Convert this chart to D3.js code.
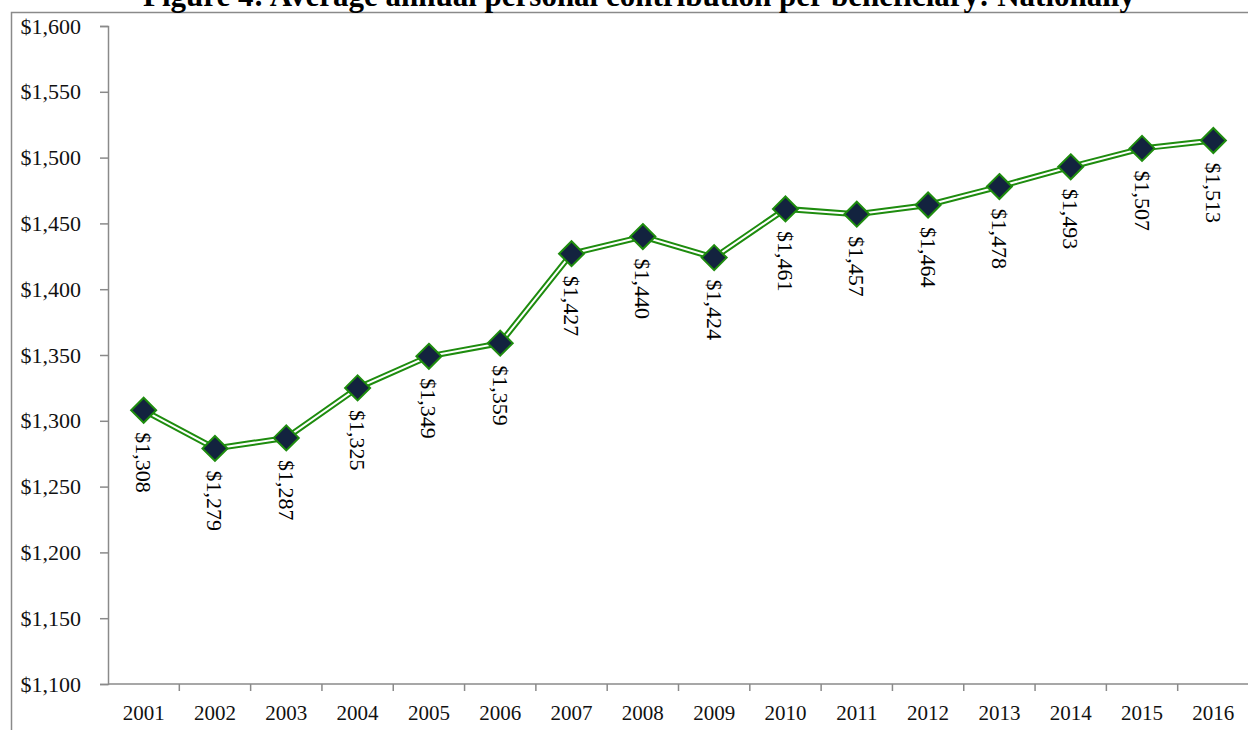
<!DOCTYPE html>
<html>
<head>
<meta charset="utf-8">
<script src="https://cdn.jsdelivr.net/npm/d3@7"></script>
<style>
  html, body { margin: 0; padding: 0; background: #fff; overflow: hidden; }
  svg { display: block; }
</style>
</head>
<body>
<svg id="chart" width="1248" height="730"></svg>
<script>
// Average annual personal contribution per beneficiary, national figures
const years = ["2001","2002","2003","2004","2005","2006","2007","2008","2009","2010","2011","2012","2013","2014","2015","2016"];
const contributions = [1308, 1279, 1287, 1325, 1349, 1359, 1427, 1440, 1424, 1461, 1457, 1464, 1478, 1493, 1507, 1513];
const yTicks = [1100, 1150, 1200, 1250, 1300, 1350, 1400, 1450, 1500, 1550, 1600];
const title = "Figure 4: Average annual personal contribution per beneficiary: Nationally";

const svg = d3.select("#chart");
const FONT = "'Liberation Serif', 'Times New Roman', serif";
const AXIS_GREY = "#8a8a8a";
const GREEN = "#1e8c0e";

const plot = { left: 108, right: 1249, top: 26, bottom: 684 };

// outer frame
svg.append("path")
  .attr("d", `M11.5,730 L11.5,12.5 L1248,12.5`)
  .attr("fill", "none").attr("stroke", AXIS_GREY).attr("stroke-width", 1.5);

// title (sits above the frame)
svg.append("text")
  .attr("x", 639).attr("y", 6)
  .attr("text-anchor", "middle")
  .attr("font-family", FONT).attr("font-weight", "bold").attr("font-size", 31)
  .attr("fill", "#000")
  .text(title);

const x = d3.scaleBand().domain(years).range([plot.left, plot.right]);
const y = d3.scaleLinear().domain([1100, 1600]).range([plot.bottom, plot.top]);

const fmt = v => "$" + d3.format(",")(v);

// y axis
const yAxis = svg.append("g")
  .attr("transform", `translate(${plot.left},0)`)
  .call(d3.axisLeft(y).tickValues(yTicks).tickFormat(fmt).tickSize(8).tickPadding(19));
yAxis.select(".domain").attr("stroke", AXIS_GREY).attr("stroke-width", 1.5);
yAxis.selectAll(".tick line").attr("stroke", AXIS_GREY).attr("stroke-width", 1.5);
yAxis.selectAll(".tick text")
  .attr("font-family", FONT).attr("font-size", 22).attr("fill", "#111");

// x axis with ticks between categories
const xAxis = svg.append("g")
  .attr("transform", `translate(0,${plot.bottom})`);
xAxis.append("line")
  .attr("x1", plot.left).attr("x2", plot.right)
  .attr("stroke", AXIS_GREY).attr("stroke-width", 1.5);
xAxis.selectAll("line.sep")
  .data(years.map((d, i) => i))
  .join("line").attr("class", "sep")
  .attr("x1", i => plot.left + x.step() * (i + 1))
  .attr("x2", i => plot.left + x.step() * (i + 1))
  .attr("y1", 0).attr("y2", 7)
  .attr("stroke", AXIS_GREY).attr("stroke-width", 1.5);
xAxis.selectAll("text.yr")
  .data(years)
  .join("text").attr("class", "yr")
  .attr("x", d => x(d) + x.bandwidth() / 2)
  .attr("y", 36)
  .attr("text-anchor", "middle")
  .attr("font-family", FONT).attr("font-size", 21).attr("fill", "#111")
  .text(d => d);

const pts = years.map((yr, i) => ({ yr, v: contributions[i] }));
const cx = d => x(d.yr) + x.bandwidth() / 2;
const line = d3.line().x(cx).y(d => y(d.v));

// double-stroke green line
svg.append("path").datum(pts).attr("d", line)
  .attr("fill", "none").attr("stroke", GREEN).attr("stroke-width", 6);
svg.append("path").datum(pts).attr("d", line)
  .attr("fill", "none").attr("stroke", "#fff").attr("stroke-width", 2);

// diamond markers
svg.selectAll("path.marker")
  .data(pts)
  .join("path").attr("class", "marker")
  .attr("transform", d => `translate(${cx(d)},${y(d.v)})`)
  .attr("d", "M0,-12.5 L12.5,0 L0,12.5 L-12.5,0 Z")
  .attr("fill", "#13233f").attr("stroke", GREEN).attr("stroke-width", 2);

// rotated value labels under each point
svg.selectAll("text.val")
  .data(pts)
  .join("text").attr("class", "val")
  .attr("transform", d => `translate(${cx(d)},${y(d.v) + 22}) rotate(90)`)
  .attr("dominant-baseline", "central")
  .attr("font-family", FONT).attr("font-size", 22).attr("fill", "#000")
  .text(d => fmt(d.v));
</script>
</body>
</html>
